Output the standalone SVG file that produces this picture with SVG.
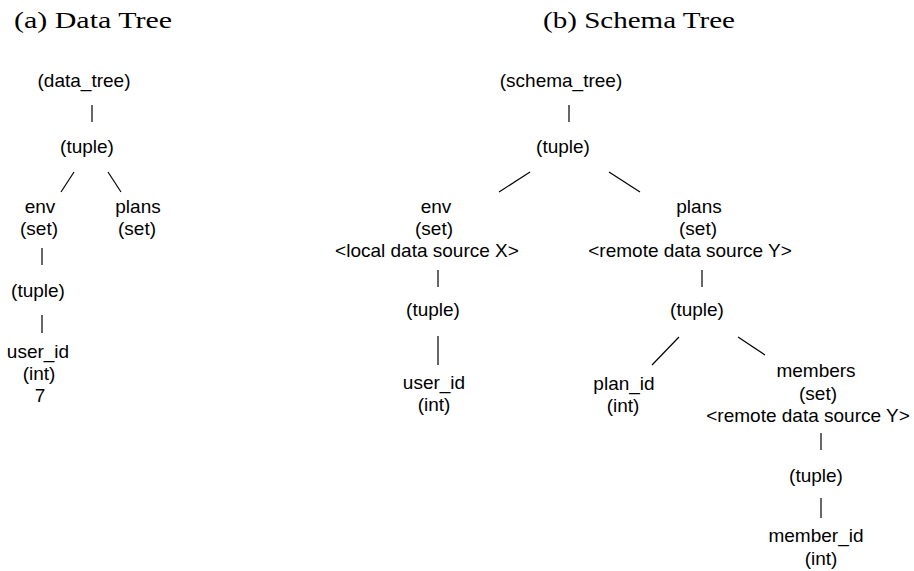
<svg xmlns="http://www.w3.org/2000/svg" width="914" height="571" viewBox="0 0 914 571">
<style>
text{font-family:"Liberation Sans",Arial,sans-serif;font-size:19px;fill:#000;text-anchor:middle}
text.title{font-family:"Liberation Serif","DejaVu Serif",serif;font-size:23px;text-anchor:start}
line{stroke:#000;stroke-width:1.2}
</style>
<rect width="914" height="571" fill="#fff"/>
<text class="title" x="14" y="28" textLength="158" lengthAdjust="spacingAndGlyphs">(a) Data Tree</text>
<text class="title" x="543" y="28" textLength="192" lengthAdjust="spacingAndGlyphs">(b) Schema Tree</text>
<g id="connectors">
<line x1="92" y1="105" x2="92" y2="122"/>
<line x1="74" y1="172" x2="61" y2="192"/>
<line x1="108" y1="172" x2="121" y2="192"/>
<line x1="42" y1="248" x2="42" y2="265"/>
<line x1="42" y1="315" x2="42" y2="333"/>
<line x1="569" y1="105" x2="569" y2="122"/>
<line x1="530" y1="172" x2="499" y2="192"/>
<line x1="609" y1="172" x2="640" y2="192"/>
<line x1="438" y1="270" x2="438" y2="287"/>
<line x1="438" y1="336" x2="438" y2="365"/>
<line x1="702" y1="270" x2="702" y2="287"/>
<line x1="679" y1="337" x2="652" y2="365"/>
<line x1="738" y1="337" x2="765" y2="355"/>
<line x1="821" y1="433" x2="821" y2="450"/>
<line x1="821" y1="498" x2="821" y2="518"/>
</g>
<g id="a-root"><text x="84" y="87">(data_tree)</text></g>
<g id="a-tuple"><text x="87" y="153">(tuple)</text></g>
<g id="a-env"><text x="40" y="213">env</text><text x="39" y="235">(set)</text></g>
<g id="a-plans"><text x="138" y="213">plans</text><text x="137" y="235">(set)</text></g>
<g id="a-tuple2"><text x="38" y="297">(tuple)</text></g>
<g id="a-user"><text x="38" y="358">user_id</text><text x="39" y="380">(int)</text><text x="40" y="402">7</text></g>
<g id="b-root"><text x="561" y="87">(schema_tree)</text></g>
<g id="b-tuple"><text x="563" y="153">(tuple)</text></g>
<g id="b-env"><text x="436" y="213">env</text><text x="434" y="235">(set)</text><text x="427" y="257">&lt;local data source X&gt;</text></g>
<g id="b-plans"><text x="699" y="213">plans</text><text x="698" y="235">(set)</text><text x="690" y="257">&lt;remote data source Y&gt;</text></g>
<g id="b-env-tuple"><text x="433" y="316">(tuple)</text></g>
<g id="b-user"><text x="434" y="389">user_id</text><text x="434" y="411">(int)</text></g>
<g id="b-plans-tuple"><text x="697" y="316">(tuple)</text></g>
<g id="b-plan-id"><text x="624" y="390">plan_id</text><text x="623" y="412">(int)</text></g>
<g id="b-members"><text x="816" y="377">members</text><text x="818" y="400">(set)</text><text x="808" y="422">&lt;remote data source Y&gt;</text></g>
<g id="b-members-tuple"><text x="816" y="482">(tuple)</text></g>
<g id="b-member-id"><text x="816" y="542">member_id</text><text x="821" y="565">(int)</text></g>
</svg>
